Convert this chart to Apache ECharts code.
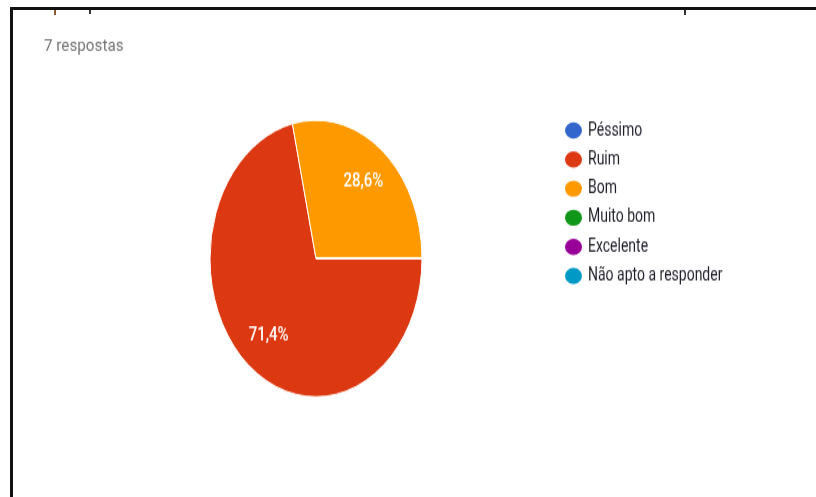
<!DOCTYPE html>
<html>
<head>
<meta charset="utf-8">
<script src="https://cdn.jsdelivr.net/npm/echarts@6/dist/echarts.min.js"></script>
<style>
  html, body { margin: 0; padding: 0; background: #fff; overflow: hidden; }
  #page { position: relative; width: 816px; height: 497px; overflow: hidden; }
  /* chart is drawn at a reduced height and stretched vertically */
  #chart {
    position: absolute; left: 0; top: 0;
    width: 816px; height: 381px;
    transform: scaleY(1.3045); transform-origin: 0 0;
  }
  .frame-top { position: absolute; left: 10px; top: 7px; width: 806px; height: 3px; background: #111; }
  .frame-left { position: absolute; left: 10px; top: 7px; width: 3px; height: 490px; background: #111; }
  .tick { position: absolute; top: 10px; width: 2px; height: 5px; background: #333; }
</style>
</head>
<body>
<div id="page">
  <div id="chart"></div>
  <div class="frame-top"></div>
  <div class="frame-left"></div>
  <div class="tick" style="left:54px; background:#8a5a2c;"></div>
  <div class="tick" style="left:89px; height:4px;"></div>
  <div class="tick" style="left:684px;"></div>
</div>
<script>
// Answer options and response counts
const categories = ['Péssimo', 'Ruim', 'Bom', 'Muito bom', 'Excelente', 'Não apto a responder'];
const counts = [0, 5, 2, 0, 0, 0];
const colors = ['#3366cc', '#dc3912', '#ff9900', '#109618', '#990099', '#0099c6'];
const totalText = '7 respostas';

const pieData = categories.map((name, i) => ({ name: name, value: counts[i] }));

function pctLabel(p) {
  if (!p.value) return '';
  return p.percent.toFixed(1).replace('.', ',') + '%';
}

const chart = echarts.init(document.getElementById('chart'), null, { renderer: 'canvas' });

chart.setOption({
  animation: false,
  color: colors,
  graphic: [{
    type: 'text',
    left: 44,
    top: 29.5,
    scaleX: 1.27,
    style: {
      text: totalText,
      font: '12px Roboto',
      fill: '#757575'
    }
  }],
  legend: {
    orient: 'vertical',
    left: 563,
    top: 91.8,
    padding: 0,
    itemGap: 5.9,
    itemWidth: 19,
    itemHeight: 14.4,
    icon: 'path://M0,5.75A7.5,5.75,0,1,1,15,5.75A7.5,5.75,0,1,1,0,5.75Z',
    symbolKeepAspect: false,
    selectedMode: false,
    data: categories,
    textStyle: {
      fontFamily: 'Roboto',
      fontSize: 14,
      lineHeight: 14,
      color: '#1f1f2a',
      padding: [0, 0, 0, 0]
    }
  },
  series: [
    {
      type: 'pie',
      center: [316, 198.2],
      radius: [0, 106],
      startAngle: 0,
      clockwise: true,
      silent: true,
      label: { show: false },
      labelLine: { show: false },
      itemStyle: { borderColor: '#ffffff', borderWidth: 1 },
      emphasis: { disabled: true },
      data: pieData
    },
    {
      // transparent ring that only carries the percentage labels
      type: 'pie',
      center: [316, 198.2],
      radius: [40, 106],
      startAngle: 0,
      clockwise: true,
      silent: true,
      itemStyle: { color: 'rgba(0,0,0,0)', borderWidth: 0 },
      label: {
        show: true,
        position: 'inside',
        formatter: pctLabel,
        color: '#ffffff',
        fontFamily: 'Roboto',
        fontWeight: 500,
        fontSize: 15
      },
      labelLine: { show: false },
      emphasis: { disabled: true },
      data: pieData
    }
  ]
});
</script>
</body>
</html>
